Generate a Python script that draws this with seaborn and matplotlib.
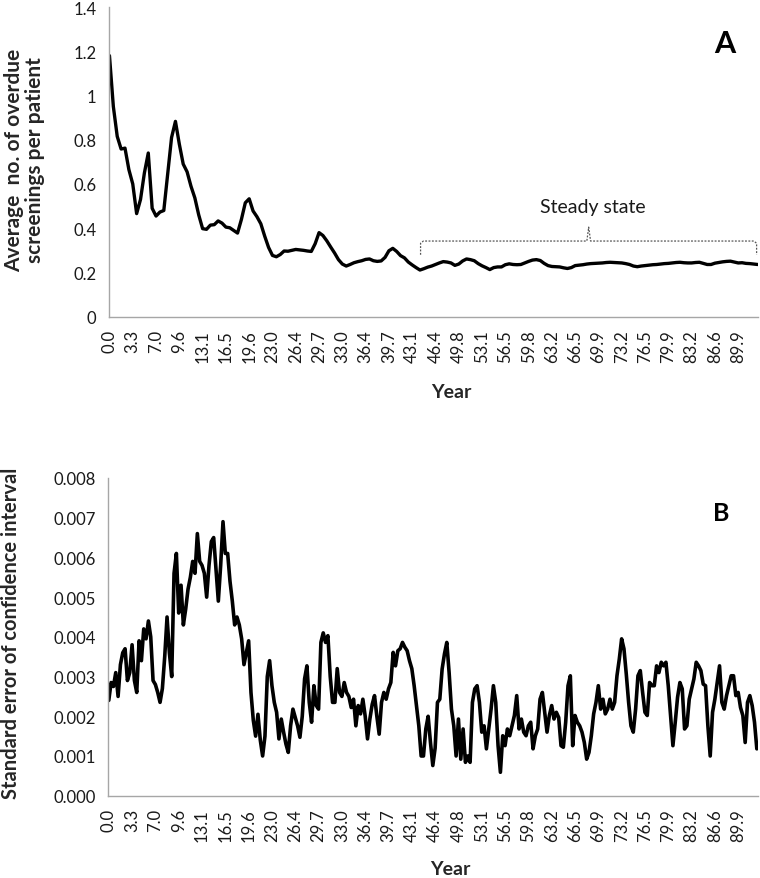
import numpy as np
import pandas as pd
import matplotlib
matplotlib.use("Agg")
import matplotlib.pyplot as plt
import seaborn as sns

# ---------------- data ----------------
year_labels = ['0.0', '3.3', '7.0', '9.6', '13.1', '16.5', '19.6', '23.0', '26.4',
               '29.7', '33.0', '36.4', '39.7', '43.1', '46.4', '49.8', '53.1', '56.5',
               '59.8', '63.2', '66.5', '69.9', '73.2', '76.5', '79.9', '83.2', '86.6',
               '89.9']

# Panel A: average number of overdue screenings per patient (6 samples per label step)
overdue_per_patient = [
    1.18, 0.95, 0.815, 0.758, 0.762, 0.665, 0.60, 0.466, 0.53, 0.65,
    0.74, 0.49, 0.455, 0.473, 0.48, 0.645, 0.81, 0.883, 0.78, 0.69,
    0.655, 0.59, 0.537, 0.46, 0.398, 0.395, 0.414, 0.416, 0.433, 0.423,
    0.405, 0.402, 0.39, 0.378, 0.44, 0.515, 0.533, 0.478, 0.452, 0.42,
    0.364, 0.313, 0.277, 0.271, 0.281, 0.297, 0.296, 0.300, 0.304, 0.302,
    0.300, 0.297, 0.295, 0.33, 0.38, 0.367, 0.343, 0.315, 0.288, 0.258,
    0.238, 0.229, 0.236, 0.244, 0.249, 0.253, 0.259, 0.261, 0.253, 0.250,
    0.252, 0.268, 0.298, 0.309, 0.295, 0.276, 0.266, 0.247, 0.234, 0.222,
    0.211, 0.217, 0.224, 0.229, 0.236, 0.243, 0.249, 0.247, 0.243, 0.232,
    0.238, 0.252, 0.261, 0.258, 0.253, 0.240, 0.230, 0.222, 0.213, 0.222,
    0.225, 0.225, 0.235, 0.239, 0.236, 0.235, 0.236, 0.243, 0.250, 0.256,
    0.258, 0.254, 0.241, 0.231, 0.227, 0.226, 0.225, 0.221, 0.218, 0.222,
    0.231, 0.233, 0.235, 0.238, 0.240, 0.241, 0.242, 0.243, 0.245, 0.246,
    0.245, 0.244, 0.243, 0.240, 0.236, 0.229, 0.226, 0.229, 0.231, 0.233,
    0.235, 0.236, 0.238, 0.240, 0.241, 0.243, 0.245, 0.246, 0.244, 0.243,
    0.243, 0.245, 0.246, 0.241, 0.236, 0.236, 0.242, 0.245, 0.248, 0.250,
    0.251, 0.247, 0.243, 0.244, 0.241, 0.240, 0.238, 0.236,
]

# Panel B: standard error of confidence interval, in units of 0.001 (10 samples per label step)
std_error_milli = [
    2.4, 2.85, 2.75, 3.1, 2.5, 3.3, 3.6, 3.7, 2.9, 3.1,
    3.8, 2.9, 2.6, 3.9, 3.4, 4.2, 3.95, 4.4, 4.0, 2.9,
    2.8, 2.6, 2.35, 2.7, 3.5, 4.5, 3.6, 3.0, 5.6, 6.1,
    4.6, 5.3, 4.3, 4.7, 5.2, 5.5, 5.9, 5.6, 6.6, 5.9,
    5.8, 5.6, 5.0, 5.8, 6.4, 6.5, 5.7, 4.9, 5.8, 6.9,
    6.1, 6.1, 5.4, 4.9, 4.3, 4.5, 4.3, 3.95, 3.3, 3.6,
    3.9, 2.6, 1.9, 1.5, 2.05, 1.4, 1.0, 1.5, 3.0, 3.4,
    2.77, 2.35, 2.1, 1.43, 1.93, 1.6, 1.3, 1.09, 1.76, 2.18,
    1.97, 1.76, 1.47, 2.0, 2.94, 3.27, 2.35, 1.85, 2.77, 2.27,
    2.18, 3.86, 4.1, 3.86, 4.03, 3.0, 2.35, 2.35, 3.2, 2.6,
    2.5, 2.85, 2.6, 2.5, 2.22, 2.43, 1.76, 2.27, 2.06, 2.43,
    2.0, 1.43, 1.93, 2.3, 2.52, 2.0, 1.55, 2.35, 2.6, 2.43,
    2.69, 2.85, 3.61, 3.27, 3.65, 3.7, 3.86, 3.74, 3.65, 3.4,
    3.2, 2.77, 2.27, 1.76, 1.0, 1.0, 1.68, 2.0, 1.34, 0.76,
    1.2, 2.35, 2.43, 3.19, 3.57, 3.86, 3.1, 2.18, 1.76, 1.0,
    1.93, 0.92, 1.68, 0.84, 1.0, 0.84, 2.35, 2.69, 2.77, 2.35,
    1.6, 1.76, 1.18, 1.68, 2.18, 2.77, 2.35, 1.26, 0.59, 1.51,
    1.26, 1.68, 1.51, 1.76, 2.02, 2.52, 1.68, 1.93, 1.6, 1.51,
    1.76, 1.85, 1.18, 1.51, 1.68, 2.43, 2.6, 2.1, 1.6, 2.02,
    2.27, 1.93, 2.1, 1.97, 1.26, 1.22, 1.85, 2.77, 3.02, 1.26,
    2.02, 1.85, 1.76, 1.6, 1.34, 0.92, 1.09, 1.51, 2.06, 2.35,
    2.77, 2.18, 2.43, 2.06, 2.18, 2.43, 2.18, 2.35, 3.02, 3.44,
    3.95, 3.7, 3.06, 2.35, 1.76, 1.6, 2.18, 3.02, 3.15, 2.6,
    2.1, 2.02, 2.85, 2.77, 2.77, 3.27, 3.1, 3.36, 3.27, 3.36,
    2.77, 2.02, 1.26, 1.85, 2.48, 2.85, 2.69, 1.68, 1.76, 2.43,
    2.69, 2.94, 3.36, 3.27, 3.15, 2.81, 2.77, 1.76, 1.0, 2.1,
    2.43, 2.85, 3.27, 2.35, 2.18, 2.52, 2.77, 3.02, 3.02, 2.52,
    2.6, 2.22, 2.02, 1.34, 2.35, 2.52, 2.27, 1.85, 1.18,
]

A_SAMPLES_PER_LABEL = 6
B_SAMPLES_PER_LABEL = 10

df_a = pd.DataFrame({
    "pos": np.arange(len(overdue_per_patient)) / A_SAMPLES_PER_LABEL,
    "value": overdue_per_patient,
})
df_b = pd.DataFrame({
    "pos": np.arange(len(std_error_milli)) / B_SAMPLES_PER_LABEL,
    "value": np.array(std_error_milli) / 1000.0,
})

# ---------------- style ----------------
sns.set_style("white")
plt.rcParams["font.family"] = ["Lato", "DejaVu Sans"]

W, H = 760, 879
fig = plt.figure(figsize=(W / 100, H / 100), dpi=100)

def px_axes(left, top, right, bottom):
    return fig.add_axes([left / W, 1 - bottom / H, (right - left) / W, (bottom - top) / H])

ax_a = px_axes(109, 8, 758, 317.7)
ax_b = px_axes(108.3, 479, 758, 796.7)

spine_col = "#a6a6a6"
XLIM = (-0.02, 27.85)

for ax in (ax_a, ax_b):
    for s in ("top", "right"):
        ax.spines[s].set_visible(False)
    for s in ("left", "bottom"):
        ax.spines[s].set_color(spine_col)
        ax.spines[s].set_linewidth(1.0)
    ax.set_xlim(*XLIM)
    ax.set_xticks(np.arange(len(year_labels)))
    ax.set_xticklabels(year_labels, rotation=90, fontsize=12, color="#1a1a1a")
    ax.tick_params(axis="x", length=0, pad=9)
    ax.tick_params(axis="y", length=5, width=1, color=spine_col, labelsize=12,
                   labelcolor="#1a1a1a", pad=4)
    ax.grid(False)

# Panel A
sns.lineplot(data=df_a, x="pos", y="value", ax=ax_a, color="black", linewidth=2.4)
ax_a.set_ylim(0, 1.4)
a_ticks = [0, 0.2, 0.4, 0.6, 0.8, 1.0, 1.2, 1.4]
ax_a.set_yticks(a_ticks)
ax_a.set_yticklabels(["0", "0.2", "0.4", "0.6", "0.8", "1", "1.2", "1.4"])
ax_a.set_xlabel("")
ax_a.set_ylabel("")

# Steady state bracket (annotation)
br_y, br_drop, br_peak = 0.342, 0.28, 0.405
xl, xm, xr = 13.36, 20.58, 27.79
bx = [xl, xl, xl + 0.12, xm - 0.08, xm, xm + 0.08, xr - 0.12, xr, xr]
by = [br_drop, br_y - 0.01, br_y, br_y, br_peak, br_y, br_y, br_y - 0.01, br_drop]
ax_a.plot(bx, by, color="#555555", linewidth=0.9, linestyle=(0, (1.5, 1.2)))
ax_a.text(20.77, 0.498, "Steady state", ha="center", va="center", fontsize=14,
          color="#1a1a1a")
ax_a.text(0.948, 0.885, "A", transform=ax_a.transAxes, ha="center", va="center",
          fontsize=22, fontweight="bold", color="black")

# Panel B
sns.lineplot(data=df_b, x="pos", y="value", ax=ax_b, color="black", linewidth=2.6)
ax_b.set_ylim(0, 0.008)
b_ticks = np.arange(0, 0.0081, 0.001)
ax_b.set_yticks(b_ticks)
ax_b.set_yticklabels([f"{t:.3f}" for t in b_ticks])
ax_b.set_xlabel("")
ax_b.set_ylabel("")
ax_b.text(0.944, 0.89, "B", transform=ax_b.transAxes, ha="center", va="center",
          fontsize=18, fontweight="bold", color="black")

# Axis titles placed in figure pixel coordinates
def fig_text(x, y, s, **kw):
    fig.text(x / W, 1 - y / H, s, **kw)

fig_text(451, 392, "Year", ha="center", va="center", fontsize=14, fontweight="bold")
fig_text(450, 870, "Year", ha="center", va="center", fontsize=14, fontweight="bold")
fig_text(24.5, 160, "Average  no. of overdue\nscreenings per patient", ha="center",
         va="center", rotation=90, fontsize=15, fontweight="bold", linespacing=1.05)
fig_text(11, 633, "Standard error of confidence interval", ha="center", va="center",
         rotation=90, fontsize=14.5, fontweight="bold")

fig.savefig("out.png", dpi=100)
